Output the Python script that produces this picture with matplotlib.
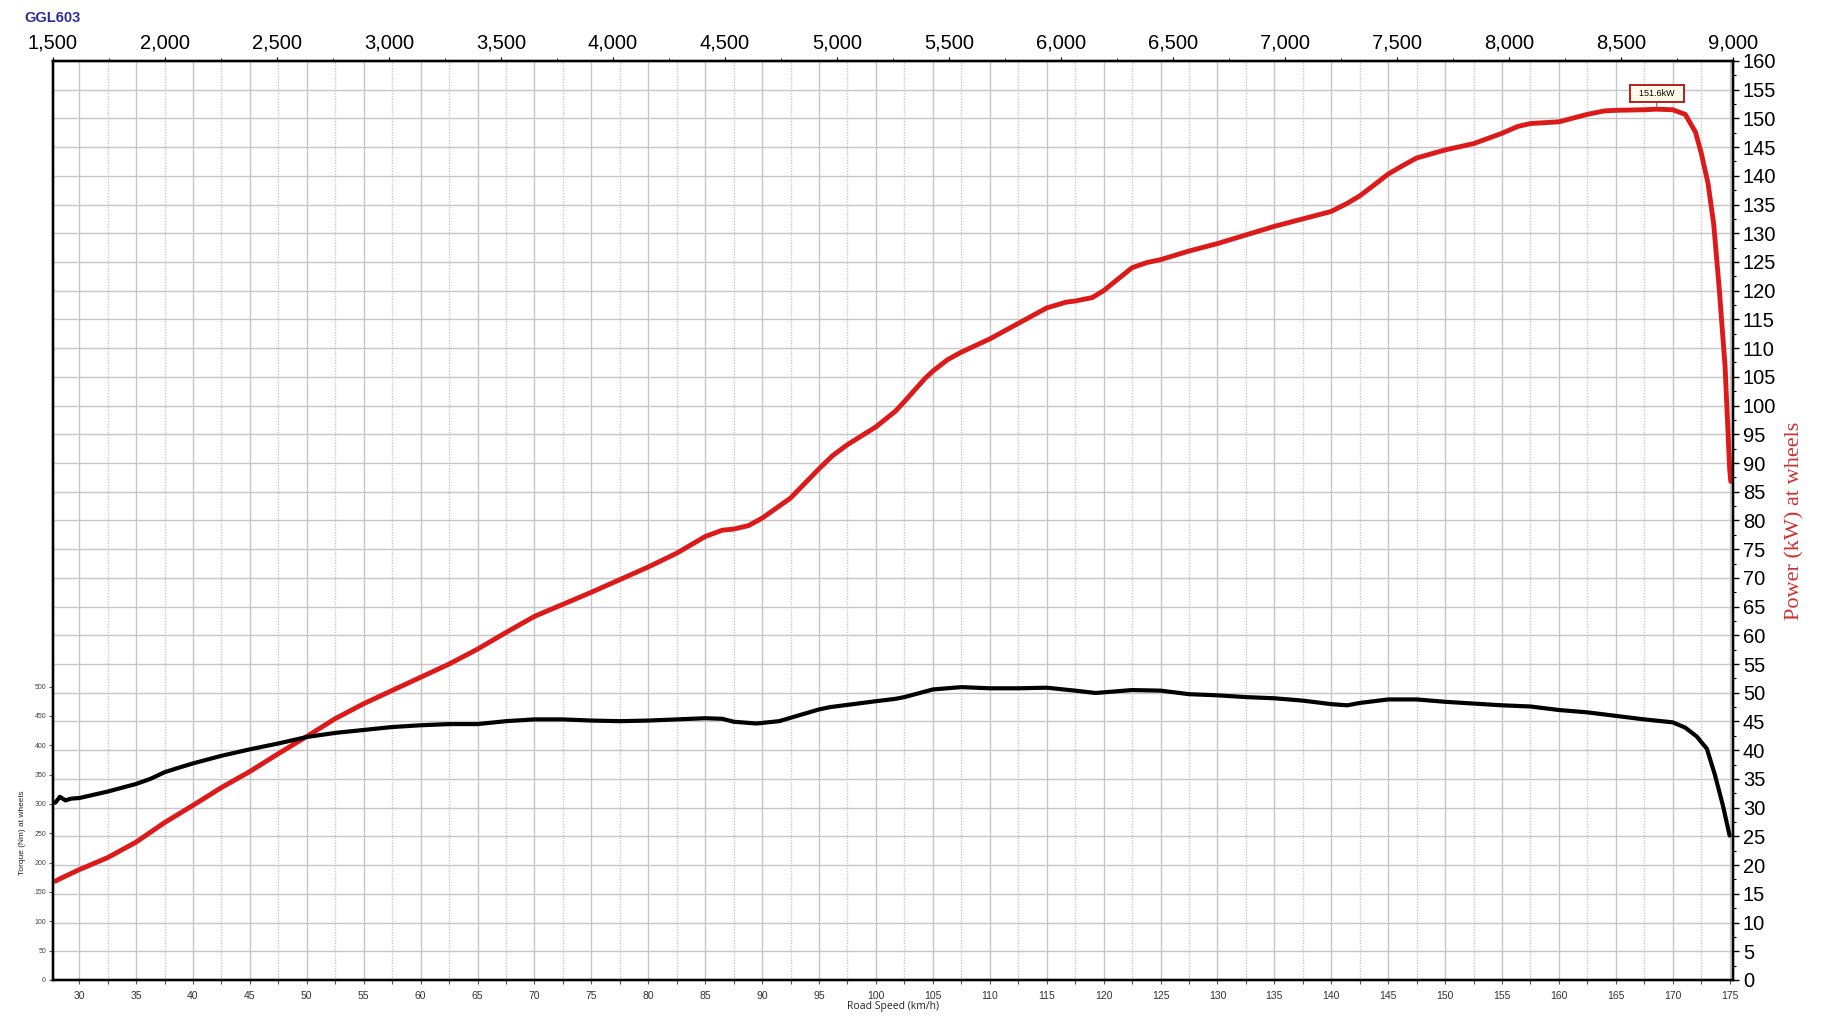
import matplotlib
matplotlib.use("Agg")
import matplotlib.pyplot as plt
from matplotlib.ticker import MultipleLocator, FixedLocator, StrMethodFormatter

# power curve (kW at wheels) vs road speed (km/h)
speed_kw = [27.9, 28.5, 30, 32.5, 35, 37.5, 40, 42.5, 45, 47.5, 50, 52.5, 55, 57.5,
            60, 62.5, 65, 67.5, 70, 72.5, 75, 77.5, 80, 82.5, 85, 86.5, 87.5, 88.8,
            90, 92.5, 95, 96.2, 97.5, 100, 101.7, 102.5, 104.3, 105, 106.3, 107.5,
            110, 112.5, 115, 116.7, 117.5, 119, 120, 122.5, 123.8, 125, 127.5, 130,
            132.5, 135, 137.5, 140, 141.4, 142.5, 143.7, 145, 146.3, 147.5, 150,
            152.5, 155, 156.4, 157.5, 160, 162.5, 164, 165, 167.5, 168.6, 170,
            171.1, 172, 172.5, 173.1, 173.6, 174.1, 174.6, 175, 175.1]
power_kw = [17.2, 17.8, 19.2, 21.3, 24.0, 27.4, 30.4, 33.5, 36.3, 39.4, 42.4, 45.5, 48.1, 50.4,
            52.7, 55.0, 57.6, 60.5, 63.3, 65.4, 67.5, 69.7, 71.9, 74.3, 77.2, 78.3, 78.5, 79.1,
            80.4, 83.9, 89.0, 91.3, 93.2, 96.3, 99.0, 100.7, 104.7, 106.0, 108.0, 109.3,
            111.6, 114.3, 117.0, 118.0, 118.2, 118.8, 120.0, 124.0, 124.9, 125.4, 126.9, 128.2,
            129.7, 131.2, 132.5, 133.8, 135.2, 136.5, 138.3, 140.3, 141.8, 143.1, 144.5,
            145.6, 147.4, 148.6, 149.1, 149.4, 150.7, 151.3, 151.4, 151.5, 151.6, 151.5,
            150.7, 147.6, 144.0, 138.7, 131.6, 120.0, 106.8, 89.0, 86.8]

# torque curve (Nm at wheels)
speed_nm = [27.9, 28.3, 28.8, 29.3, 30, 32.5, 35, 36.3, 37.5, 38.8, 40, 42.5, 45, 47.5,
            50, 52.5, 55, 57.5, 60, 62.5, 65, 67.5, 70, 72.5, 75, 77.5, 80, 82.5, 85,
            86.5, 87.5, 89.5, 91.5, 95, 96, 100, 101.7, 102.5, 105, 107.5, 110, 112.5,
            115, 117.5, 119.3, 122.5, 125, 127.5, 130, 132.5, 135, 137.5, 140, 141.4,
            142.5, 145, 147.5, 150, 152.5, 155, 157.5, 160, 162.5, 165, 167.5, 170,
            171.1, 172.1, 173, 173.7, 174.4, 175]
torque_nm = [302, 312, 306, 309, 310, 321, 334, 343, 354, 362, 369, 382, 393, 403,
             414, 421, 426, 431, 434, 436, 436, 441, 444, 444, 442, 441, 442, 444, 446,
             445, 440, 437, 441, 461, 465, 475, 479, 482, 495, 499, 497, 497,
             498, 493, 489, 494, 493, 487, 485, 482, 480, 476, 470, 468,
             472, 478, 478, 474, 471, 468, 466, 460, 456, 450, 444, 439,
             430, 415, 394, 350, 298, 246]

peak_speed = 168.6
peak_power = 151.6
peak_label = "151.6kW"

rpm_ticks = list(range(1500, 9001, 500))
torque_ticks = list(range(0, 501, 50))

plt.rcParams['font.family'] = 'Liberation Sans'

fig = plt.figure(figsize=(18.21, 10.24), dpi=100)
rect = [0.0291, 0.0430, 0.9226, 0.8975]
ax = fig.add_axes(rect)      # power (right) + grid
tax = ax.twinx()             # torque (left)
rax = ax.twiny()             # rpm (top)

ax.set_xlim(27.7, 175.3)
ax.set_ylim(0, 160)
tax.set_ylim(0, 1566)
rax.set_xlim(1500, 9000)

# grid
ax.set_axisbelow(True)
ax.xaxis.set_major_locator(MultipleLocator(5))
ax.xaxis.set_minor_locator(MultipleLocator(2.5))
ax.grid(which='major', axis='x', color='#c6c6c6', lw=1.0)
ax.grid(which='minor', axis='x', color='#c9c9c9', lw=1.0, linestyle=(0, (1, 1)))
ax.yaxis.set_major_locator(MultipleLocator(5))
ax.yaxis.set_minor_locator(MultipleLocator(2.5))
ax.grid(which='major', axis='y', color='#c6c6c6', lw=1.0)

# curves
ax.plot(speed_kw, power_kw, color='#dc1a1a', lw=3.5,
        solid_capstyle='round', solid_joinstyle='round', zorder=3)
tax.plot(speed_nm, torque_nm, color='black', lw=3.0,
         solid_capstyle='round', solid_joinstyle='round', zorder=3)

# peak label
ax.annotate("  " + peak_label + "  ", xy=(peak_speed, peak_power), xytext=(0, 11),
            textcoords='offset points', ha='center', va='center', fontsize=6.5,
            bbox=dict(boxstyle='square,pad=0.45', fc='#fffbe8', ec='#b52020', lw=1.4),
            arrowprops=dict(arrowstyle='-', color='#666666', lw=0.8, shrinkA=0, shrinkB=2),
            zorder=5)

# bottom axis (road speed)
ax.tick_params(axis='x', which='both', direction='out', length=3, width=0.8,
               color='#555555', labelsize=7.5, labelcolor='#333333', pad=5)
ax.tick_params(axis='x', which='minor', labelbottom=False)
ax.set_xlabel('Road Speed (km/h)', fontsize=7.5, family='Open Sans', color='#222222',
              labelpad=0)

# right axis (power)
ax.yaxis.tick_right()
ax.tick_params(axis='y', which='major', direction='out', length=4, width=1,
               labelsize=14.5, pad=3)
ax.tick_params(axis='y', which='minor', direction='out', length=2.5, width=0.8)
ax.text(1.037, 0.5, 'Power (kW) at wheels', transform=ax.transAxes, rotation=90,
        ha='center', va='center', fontsize=16, family='Liberation Serif', color='#cf3030')

# left axis (torque)
tax.yaxis.tick_left()
tax.yaxis.set_major_locator(FixedLocator(torque_ticks))
tax.tick_params(axis='y', direction='out', length=3, width=0.8, color='#555555',
                labelsize=5, labelcolor='#444444', pad=2)
tax.text(-0.0179, 0.16, 'Torque (Nm) at wheels', transform=tax.transAxes, rotation=90,
         ha='center', va='center', fontsize=6, color='#222222')

# top axis (rpm)
rax.xaxis.set_major_locator(FixedLocator(rpm_ticks))
rax.xaxis.set_minor_locator(MultipleLocator(250))
rax.xaxis.set_major_formatter(StrMethodFormatter('{x:,.0f}'))
rax.tick_params(axis='x', which='major', direction='out', length=3, width=0.8,
                labelsize=14.5, pad=3)
rax.tick_params(axis='x', which='minor', direction='out', length=2, width=0.6)

for a in (ax, tax, rax):
    for s in a.spines.values():
        s.set_linewidth(1.6)
        s.set_color('black')

fig.text(0.0132, 0.982, 'GGL603', color='#2d2d96', fontsize=10.5, fontweight='bold',
         va='center', ha='left')

fig.savefig('out.png', dpi=100)
